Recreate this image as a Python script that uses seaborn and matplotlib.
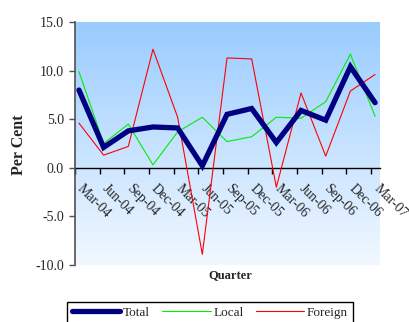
import numpy as np
import pandas as pd
import matplotlib
matplotlib.use("Agg")
import matplotlib.pyplot as plt
from matplotlib.colors import LinearSegmentedColormap
from matplotlib.transforms import ScaledTranslation
import seaborn as sns

quarters = ["Mar-04", "Jun-04", "Sep-04", "Dec-04", "Mar-05", "Jun-05", "Sep-05",
            "Dec-05", "Mar-06", "Jun-06", "Sep-06", "Dec-06", "Mar-07"]
total = [8.0, 2.1, 3.8, 4.2, 4.1, 0.2, 5.5, 6.1, 2.6, 5.9, 4.9, 10.4, 6.7]
local = [9.9, 2.5, 4.5, 0.3, 3.7, 5.2, 2.7, 3.2, 5.2, 5.1, 6.8, 11.7, 5.3]
foreign = [4.6, 1.3, 2.2, 12.2, 5.2, -8.9, 11.3, 11.2, -2.0, 7.7, 1.2, 7.9, 9.6]
y_ticks = [-10.0, -5.0, 0.0, 5.0, 10.0, 15.0]

sns.set_style("white")
plt.rcParams["font.family"] = ["Liberation Serif", "DejaVu Serif"]
plt.rcParams["axes.unicode_minus"] = False

pos = np.arange(len(quarters))
df = pd.DataFrame({"pos": pos, "Total": total, "Local": local, "Foreign": foreign})

fig = plt.figure(figsize=(4.10, 3.22), dpi=100)
fig.patch.set_facecolor("white")
ax = fig.add_axes([75 / 410, 1 - 265 / 322, 305 / 410, 243 / 322])

xlim = (-0.16, 12.2)
ylim = (-10, 15)

# vertical gradient fill for the plotting area
cmap = LinearSegmentedColormap.from_list("sky", ["#F2F8FF", "#99CCFF"])
grad = np.linspace(0, 1, 256).reshape(-1, 1)
ax.imshow(grad, extent=[xlim[0], xlim[1], ylim[0], ylim[1]], origin="lower",
          cmap=cmap, aspect="auto", zorder=0)

sns.lineplot(data=df, x="pos", y="Total", ax=ax, color="#000080", linewidth=3.8,
             label="Total", zorder=4, solid_capstyle="round", solid_joinstyle="miter")
sns.lineplot(data=df, x="pos", y="Local", ax=ax, color="#00EE00", linewidth=0.8,
             label="Local", zorder=3)
sns.lineplot(data=df, x="pos", y="Foreign", ax=ax, color="#FF0000", linewidth=0.8,
             label="Foreign", zorder=3)

ax.set_xlim(*xlim)
ax.set_ylim(*ylim)
ax.set_xlabel("")
ax.set_ylabel("")

# spines first: moving a spine resets the tick objects
for side in ("top", "right"):
    ax.spines[side].set_visible(False)
ax.spines["left"].set_color("#505050")
ax.spines["left"].set_linewidth(1.2)
ax.spines["bottom"].set_position(("data", 0))
ax.spines["bottom"].set_color("black")
ax.spines["bottom"].set_linewidth(1.0)
ax.spines["bottom"].set_zorder(2)

ax.set_yticks(y_ticks)
ax.set_yticklabels([f"{v:.1f}" for v in y_ticks], fontsize=10)
ax.set_xticks(pos - 0.16)
ax.set_xticklabels(quarters, fontsize=10, rotation=-45, ha="left", va="top",
                   rotation_mode="anchor")
ax.tick_params(axis="y", direction="out", length=4, width=1, color="#505050",
               pad=4, left=True)
ax.tick_params(axis="x", direction="out", length=4, width=1, color="black",
               pad=2, bottom=True)
shift = ScaledTranslation(9 / 100, -6 / 100, fig.dpi_scale_trans)
for lbl in ax.get_xticklabels():
    lbl.set_transform(lbl.get_transform() + shift)

handles, labels = ax.get_legend_handles_labels()
ax.get_legend().remove()

fig.text(19 / 410, 1 - 145 / 322, "Per Cent", rotation=90, ha="center", va="center",
         fontsize=11.5, fontweight="bold")
fig.text(230 / 410, 1 - 275 / 322, "Quarter", ha="center", va="center",
         fontsize=9, fontweight="bold")

leg = fig.legend(handles, labels, loc="upper left",
                 bbox_to_anchor=(67 / 410, 1 - 302 / 322), ncol=3, fontsize=9.5,
                 frameon=True, fancybox=False, edgecolor="black", framealpha=1,
                 handlelength=3.7, handletextpad=0.2, columnspacing=0.9,
                 borderpad=0.35, borderaxespad=0)
leg.get_frame().set_linewidth(1.0)

fig.savefig("out.png", dpi=100, facecolor="white")
